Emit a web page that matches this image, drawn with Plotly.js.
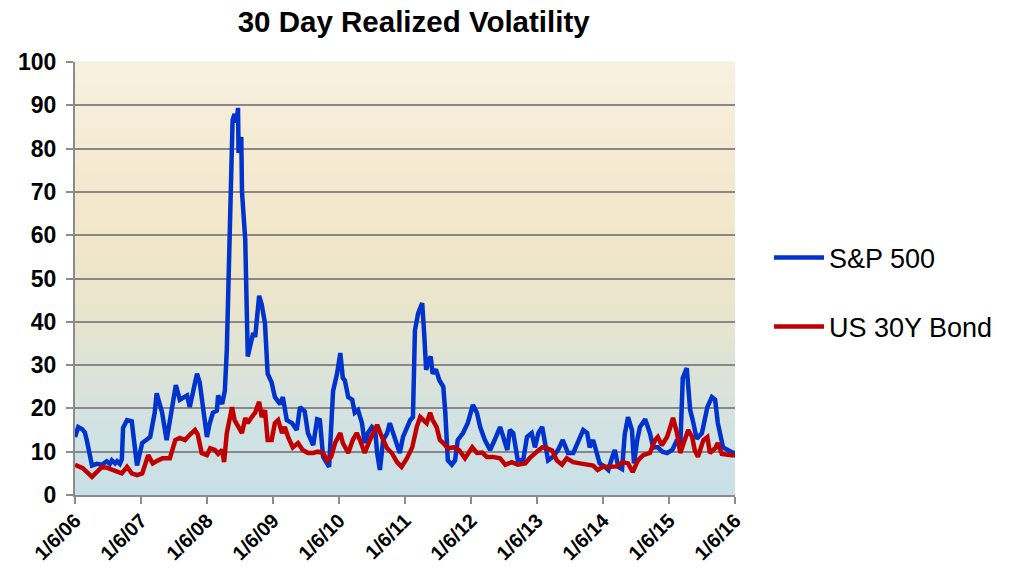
<!DOCTYPE html>
<html>
<head>
<meta charset="utf-8">
<script src="https://cdn.plot.ly/plotly-3.0.1.min.js"></script>
<style>html,body{margin:0;padding:0;background:#fff;}#chart{width:1009px;height:568px;}</style>
</head>
<body>
<div id="chart"></div>
<script>
// Time in decimal years counted from 1/6/2006 (2006.00 = 1/6/06)
var spxT = [2006.00,2006.05,2006.11,2006.15,2006.18,2006.26,2006.33,2006.41,2006.48,2006.53,2006.56,2006.61,2006.64,2006.68,2006.71,2006.73,2006.79,2006.86,2006.94,
2007.02,2007.14,2007.21,2007.24,2007.32,2007.39,2007.44,2007.53,2007.59,2007.70,2007.74,2007.85,2007.89,2007.97,
2008.00,2008.04,2008.09,2008.15,2008.17,2008.23,2008.27,2008.30,2008.32,2008.35,2008.36,2008.38,2008.39,2008.42,2008.45,2008.47,2008.48,2008.52,2008.53,2008.58,2008.61,2008.62,2008.65,2008.70,2008.73,2008.76,2008.79,2008.83,2008.88,2008.92,2008.98,
2009.03,2009.11,2009.15,2009.21,2009.29,2009.36,2009.41,2009.48,2009.53,2009.61,2009.67,2009.71,2009.76,2009.83,2009.85,2009.91,2009.97,
2010.02,2010.06,2010.09,2010.14,2010.20,2010.24,2010.29,2010.35,2010.39,2010.44,2010.50,2010.55,2010.58,2010.62,2010.67,2010.73,2010.77,2010.82,2010.88,2010.92,2010.97,
2011.03,2011.08,2011.12,2011.15,2011.20,2011.26,2011.29,2011.32,2011.35,2011.39,2011.42,2011.47,2011.52,2011.58,2011.61,2011.65,2011.71,2011.76,2011.80,2011.88,2011.95,
2012.03,2012.09,2012.14,2012.21,2012.29,2012.36,2012.44,2012.48,2012.55,2012.59,2012.64,2012.71,2012.79,2012.85,2012.92,2012.97,
2013.02,2013.08,2013.12,2013.17,2013.24,2013.32,2013.39,2013.47,2013.55,2013.62,2013.70,2013.76,2013.80,2013.85,2013.91,2013.95,
2014.03,2014.08,2014.14,2014.18,2014.23,2014.29,2014.33,2014.38,2014.44,2014.47,2014.52,2014.56,2014.64,2014.71,2014.76,2014.83,2014.90,2014.97,
2015.05,2015.12,2015.17,2015.21,2015.27,2015.32,2015.36,2015.42,2015.50,2015.58,2015.65,2015.70,2015.74,2015.82,2015.89,2015.97,2016.00];
var spxVol = [13.4,15.7,15.2,14.5,12.7,6.8,7.2,7.0,7.8,7.2,8.0,7.3,7.8,7.2,8.2,15.5,17.3,17.0,6.8,
12.0,13.4,19.0,23.5,19.0,12.7,17.3,25.4,22.0,23.0,20.3,28.0,26.0,15.7,
13.4,16.5,19.0,19.5,23.0,21.0,24.0,33.5,44.0,63.0,74.0,78.0,86.6,88.0,86.0,89.4,79.0,82.7,70.0,59.0,44.0,32.0,34.0,37.4,36.5,41.0,46.0,44.0,39.7,28.0,26.0,
22.6,21.0,22.6,17.3,16.6,15.0,20.3,19.3,14.3,11.5,17.5,17.3,8.8,7.3,6.5,24.0,28.0,
32.8,27.0,26.5,22.6,22.0,19.0,19.6,16.6,12.0,14.3,15.7,15.0,9.7,5.8,12.7,14.3,16.6,14.3,11.0,9.7,13.4,
15.7,17.3,18.0,38.0,42.0,44.3,37.4,28.9,30.5,32.0,28.0,29.0,26.5,25.0,19.0,8.0,7.0,8.0,12.7,14.3,16.6,
20.8,19.0,15.7,12.7,10.4,12.7,15.7,13.9,10.4,15.0,14.3,8.0,8.0,13.4,14.3,11.0,
14.3,15.7,12.7,8.0,8.8,10.4,12.7,9.7,9.7,12.0,15.0,14.3,11.0,12.7,8.8,7.3,
6.5,5.8,8.8,10.4,6.5,6.0,14.0,18.0,15.0,7.3,12.7,15.7,17.5,14.3,11.0,11.0,10.0,9.7,
10.4,12.7,10.8,27.0,29.3,19.6,17.3,13.0,14.3,20.3,22.6,22.0,16.6,11.0,10.4,9.7,9.8];

var bondT = [2006.00,2006.12,2006.26,2006.33,2006.41,2006.48,2006.56,2006.64,2006.71,2006.79,2006.86,2006.94,
2007.02,2007.11,2007.18,2007.26,2007.33,2007.44,2007.52,2007.59,2007.67,2007.74,2007.82,2007.86,2007.92,
2008.00,2008.05,2008.12,2008.17,2008.23,2008.26,2008.30,2008.38,2008.42,2008.47,2008.53,2008.58,2008.62,2008.68,2008.73,2008.76,2008.79,2008.83,2008.88,2008.92,2008.98,
2009.03,2009.08,2009.14,2009.18,2009.23,2009.30,2009.38,2009.45,2009.53,2009.61,2009.68,2009.76,2009.82,2009.88,2009.94,
2010.02,2010.06,2010.14,2010.21,2010.27,2010.32,2010.39,2010.47,2010.58,2010.65,2010.73,2010.80,2010.88,2010.95,
2011.03,2011.11,2011.18,2011.23,2011.27,2011.33,2011.38,2011.42,2011.48,2011.53,2011.58,2011.65,2011.74,2011.82,2011.91,
2012.02,2012.09,2012.17,2012.24,2012.33,2012.44,2012.52,2012.62,2012.71,2012.82,2012.89,
2013.00,2013.08,2013.15,2013.23,2013.30,2013.38,2013.45,2013.55,2013.65,2013.76,2013.85,2013.92,
2014.00,2014.11,2014.21,2014.30,2014.38,2014.45,2014.53,2014.61,2014.71,2014.79,2014.83,2014.89,2014.97,
2015.02,2015.06,2015.12,2015.17,2015.24,2015.29,2015.35,2015.39,2015.44,2015.52,2015.58,2015.62,2015.70,2015.74,2015.80,2015.88,2015.95,2016.00];
var bondVol = [7.0,6.2,4.2,5.3,6.5,6.3,5.8,5.3,5.0,6.5,5.0,4.6,
5.0,9.2,7.3,8.0,8.5,8.5,12.7,13.2,12.7,13.9,15.0,14.0,9.7,
9.2,10.8,10.4,9.5,10.4,7.6,14.3,20.3,17.3,15.7,14.3,17.8,16.6,18.0,19.0,20.3,21.5,18.0,19.6,12.7,12.7,
16.6,17.3,14.3,15.7,13.4,11.0,12.0,10.4,9.7,9.7,10.0,9.7,8.0,8.8,12.0,
14.3,12.0,9.7,12.7,14.3,12.7,9.7,12.7,16.2,13.4,10.8,9.7,7.6,6.5,
8.5,11.0,15.7,18.0,17.3,16.6,19.0,17.3,15.7,12.7,12.0,10.8,11.0,10.4,8.5,
11.0,9.7,9.8,8.8,8.8,8.5,7.0,7.6,7.0,7.3,8.5,
10.0,11.0,10.8,10.3,8.0,7.0,8.5,7.6,7.3,7.0,6.8,5.8,
6.5,6.5,6.6,7.6,7.3,5.3,8.0,9.2,9.7,12.7,13.4,11.5,13.4,
15.7,17.8,14.3,9.7,12.7,15.0,13.4,10.4,8.8,12.7,13.4,9.7,10.8,12.0,9.5,9.2,9.2,9.2];

var seriesNames = ['S&P 500', 'US 30Y Bond'];
var tickDates = ['2006-01-06','2007-01-06','2008-01-06','2009-01-06','2010-01-06','2011-01-06','2012-01-06','2013-01-06','2014-01-06','2015-01-06','2016-01-06'];
var tickLabels = ['1/6/06','1/6/07','1/6/08','1/6/09','1/6/10','1/6/11','1/6/12','1/6/13','1/6/14','1/6/15','1/6/16'];
var yTicks = [0,10,20,30,40,50,60,70,80,90,100];

function toDate(t) {
  var base = Date.UTC(2006, 0, 6);
  var d = new Date(base + (t - 2006) * 365.25 * 86400000);
  return d.toISOString().slice(0, 10);
}

var traces = [
  {x: spxT.map(toDate), y: spxVol, name: seriesNames[0], type: 'scatter', mode: 'lines',
   line: {color: '#0033CC', width: 4.5}, legend: 'legend'},
  {x: bondT.map(toDate), y: bondVol, name: seriesNames[1], type: 'scatter', mode: 'lines',
   line: {color: '#C00000', width: 4.5}, legend: 'legend2'}
];

// background gradient strips (styling only)
function hexToRgb(h){return [parseInt(h.substr(1,2),16),parseInt(h.substr(3,2),16),parseInt(h.substr(5,2),16)];}
var stops = [[0,'#C7E0E8'],[0.15,'#D1E2E3'],[0.30,'#DEE3D6'],[0.45,'#EAE5CC'],[0.60,'#F2E6C8'],[0.80,'#F5EBD4'],[1,'#F7F1E1']];
function colAt(f){
  for (var i=0;i<stops.length-1;i++){
    if (f>=stops[i][0] && f<=stops[i+1][0]){
      var a=hexToRgb(stops[i][1]), b=hexToRgb(stops[i+1][1]);
      var u=(f-stops[i][0])/(stops[i+1][0]-stops[i][0]);
      return 'rgb('+Math.round(a[0]+(b[0]-a[0])*u)+','+Math.round(a[1]+(b[1]-a[1])*u)+','+Math.round(a[2]+(b[2]-a[2])*u)+')';
    }
  }
  return stops[stops.length-1][1];
}
var shapes = [];
var N = 120;
for (var i=0;i<N;i++){
  shapes.push({type:'rect', xref:'paper', yref:'paper', x0:0, x1:1, y0:i/N, y1:(i+1)/N + 0.002,
    fillcolor: colAt((i+0.5)/N), line:{width:0}, layer:'below'});
}

var layout = {
  width: 1009, height: 568,
  margin: {l: 75, r: 274, t: 62, b: 73, autoexpand: false},
  paper_bgcolor: '#ffffff',
  plot_bgcolor: 'rgba(0,0,0,0)',
  font: {family: 'Liberation Sans, Arial, sans-serif', color: '#000'},
  title: {text: '<b>30 Day Realized Volatility</b>', font: {size: 29.5, color: '#000'},
          xref: 'container', x: 0.41, xanchor: 'center', yref: 'container', y: 0.962, yanchor: 'middle'},
  xaxis: {type: 'date', range: ['2006-01-06', '2016-01-06'], tickvals: tickDates, ticktext: tickLabels,
          tickangle: -45, tickfont: {size: 20, color: '#000', weight: 'bold'}, ticklabelstandoff: -3,
          showgrid: false, showline: true, linecolor: '#8c8c8c', linewidth: 2,
          ticks: 'outside', ticklen: 7, tickwidth: 2, tickcolor: '#8c8c8c', zeroline: false},
  yaxis: {range: [0, 100], tickvals: yTicks, tickfont: {size: 23, color: '#000', weight: 'bold'},
          ticklabelstandoff: 5,
          showgrid: true, gridcolor: '#888888', gridwidth: 2,
          showline: true, linecolor: '#8c8c8c', linewidth: 2,
          ticks: 'outside', ticklen: 7, tickwidth: 2, tickcolor: '#8c8c8c', zeroline: false},
  legend: {xref: 'container', x: 769/1009, xanchor: 'left', yref: 'container', y: 1 - 258/568, yanchor: 'middle',
           font: {size: 27, color: '#000'}, bgcolor: 'rgba(0,0,0,0)', itemwidth: 50},
  legend2: {xref: 'container', x: 769/1009, xanchor: 'left', yref: 'container', y: 1 - 327/568, yanchor: 'middle',
           font: {size: 27, color: '#000'}, bgcolor: 'rgba(0,0,0,0)', itemwidth: 50},
  shapes: shapes,
  showlegend: true
};

Plotly.newPlot('chart', traces, layout, {displayModeBar: false, staticPlot: true});
</script>
</body>
</html>
